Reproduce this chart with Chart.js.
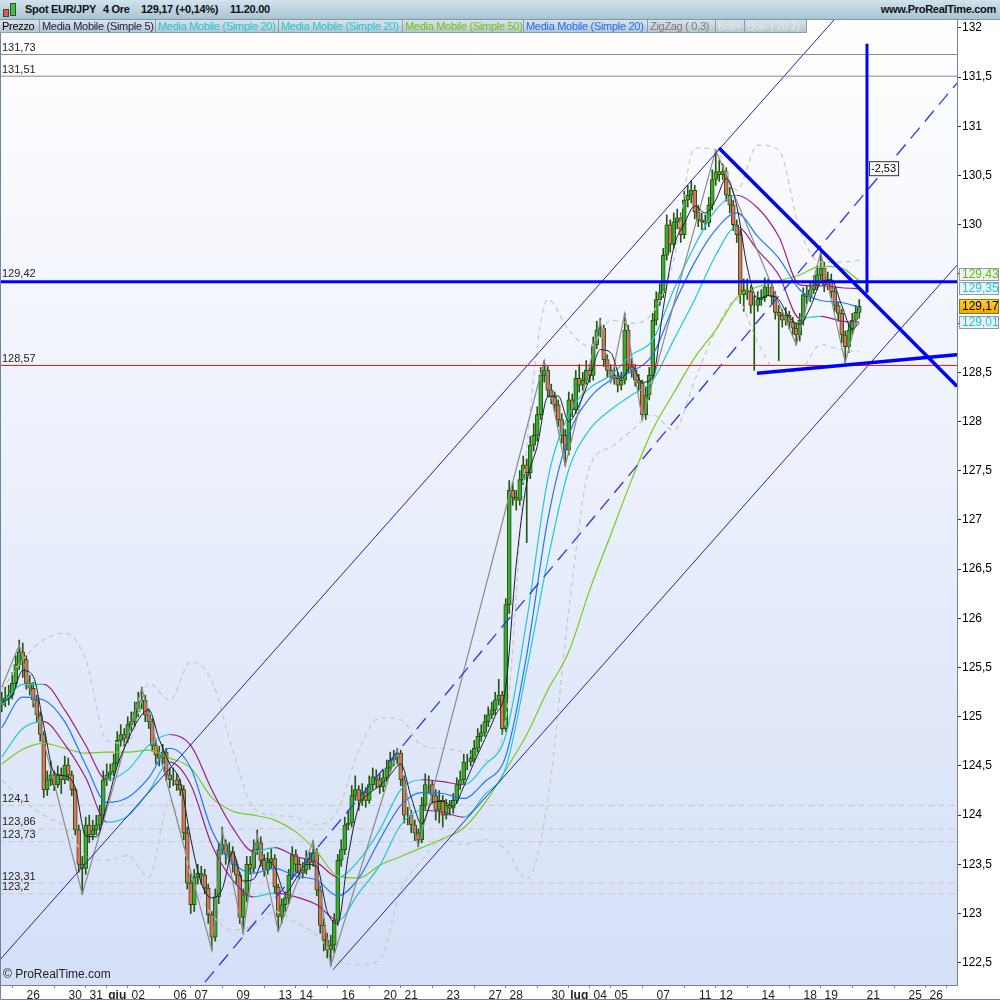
<!DOCTYPE html>
<html>
<head>
<meta charset="utf-8">
<script src="https://cdn.jsdelivr.net/npm/chart.js@4.4.1/dist/chart.umd.min.js"></script>
<style>
  body { margin: 0; background: #fff; font-family: Arial, "Liberation Sans", sans-serif; }
  #wrap { position: relative; width: 1000px; height: 1000px; overflow: hidden; }
  #c { position: absolute; left: 0; top: 0; }
  #top { position: absolute; left: 0; top: 0; width: 1000px; height: 19px;
         background: linear-gradient(#d2e3ec, #a8c4d3); border-bottom: 1px solid #7d97a7; }
  #top .t { position: absolute; top: 3px; font: bold 11px Arial, "Liberation Sans", sans-serif; color: #111;
            white-space: nowrap; letter-spacing: -0.3px; }
  #top .ico { position: absolute; left: 3px; top: 3px; width: 14px; height: 14px; }
  #top .ico i { position: absolute; display: block; border: 1px solid #444; }
  #leg { position: absolute; left: 0; top: 20px; height: 14px; display: flex; }
  #leg span { display: block; height: 13px; line-height: 13px; font-size: 11px; letter-spacing: -0.3px;
              padding-left: 2px; box-sizing: border-box; white-space: nowrap; overflow: hidden;
              background: linear-gradient(#dbe4ea, #b7c6d1); border-right: 1px solid #8c9fae; border-bottom: 1px solid #8c9fae; }
</style>
</head>
<body>
<div id="wrap">
  <canvas id="c" width="1000" height="1000"></canvas>
  <div id="top">
    <div class="ico">
      <i style="left:0;top:6px;width:4px;height:6px;background:#e35b4f"></i>
      <i style="left:7px;top:0;width:4px;height:11px;background:#3cc43c"></i>
    </div>
    <span class="t" style="left:25px">Spot EUR/JPY</span>
    <span class="t" style="left:103px">4 Ore</span>
    <span class="t" style="left:141px">129,17 (+0,14%)</span>
    <span class="t" style="left:230px">11.20.00</span>
    <span class="t" style="right:4px">www.ProRealTime.com</span>
  </div>
  <div id="leg">
    <span style="width:40px;color:#000">Prezzo</span>
    <span style="width:116px;color:#1c1c4a">Media Mobile (Simple 5)</span>
    <span style="width:123px;color:#1fc9d6">Media Mobile (Simple 20)</span>
    <span style="width:124px;color:#1fc9d6">Media Mobile (Simple 20)</span>
    <span style="width:121px;color:#6cc70e">Media Mobile (Simple 50)</span>
    <span style="width:124px;color:#1a6eff">Media Mobile (Simple 20)</span>
    <span style="width:68px;color:#7a7a7a">ZigZag ( 0,3)</span>
    <span style="width:29px;color:#e2e6ea">Boll+</span>
    <span style="width:62px;color:#e2e6ea">Boll- ( 20 2)</span>
  </div>
</div>
<script>
const FONT = 'Arial, "Liberation Sans", sans-serif';
const UP = '#3aab33', DOWN = '#e2705c', EDGE = '#24560f';
const CYAN = '#1fc9d6', MAGENTA = '#a01d8b';

// 4h candles, index 0 = first candle on the left
const firstOpen = 125.12;
const closes = [
  125.17,125.19,125.22,125.34,125.53,125.66,125.58,125.34,125.29,125.17,
  125.02,124.82,124.26,124.36,124.41,124.31,124.41,124.36,124.51,124.41,
  124.26,123.85,123.50,123.46,123.90,123.80,123.85,123.90,124.00,124.36,
  124.41,124.44,124.53,124.76,124.82,124.78,124.92,124.95,125.05,125.15,
  125.17,125.02,124.95,124.71,124.61,124.58,124.64,124.41,124.36,124.36,
  124.31,124.26,123.82,123.31,123.09,123.37,123.41,123.39,123.26,122.99,
  122.76,123.17,123.65,123.70,123.60,123.63,123.50,123.39,122.96,123.19,
  123.50,123.46,123.65,123.72,123.54,123.44,123.52,123.56,123.27,122.97,
  123.09,123.16,123.39,123.60,123.50,123.41,123.44,123.56,123.52,123.62,
  123.24,122.88,122.73,122.63,122.68,122.93,123.54,123.65,123.90,123.92,
  124.20,124.26,124.15,124.23,124.15,124.31,124.39,124.36,124.29,124.38,
  124.48,124.56,124.58,124.63,124.36,124.00,124.00,123.90,123.82,123.75,
  124.10,124.31,124.31,124.20,124.05,124.15,124.00,124.10,124.07,124.15,
  124.31,124.36,124.54,124.54,124.58,124.68,124.80,124.84,124.95,125.02,
  125.07,125.17,125.22,124.88,126.14,127.30,127.23,127.20,127.41,127.56,
  127.48,127.76,127.86,128.07,128.47,128.52,128.32,128.25,128.17,128.02,
  127.86,127.71,128.22,128.12,128.44,128.37,128.42,128.52,128.47,128.78,
  128.93,128.95,128.63,128.52,128.47,128.44,128.37,128.42,128.93,128.58,
  128.52,128.42,128.39,128.07,128.27,128.47,129.03,129.24,129.31,129.69,
  130.00,129.80,130.03,130.07,129.90,130.25,130.30,130.35,130.13,130.05,
  130.03,130.02,130.20,130.46,130.54,130.51,130.54,130.30,130.20,130.00,
  129.90,129.29,129.34,129.32,129.18,129.18,129.24,129.26,129.37,129.37,
  129.27,129.11,129.08,129.03,129.08,129.01,128.95,128.88,129.03,129.29,
  129.27,129.34,129.39,129.49,129.56,129.39,129.44,129.32,129.18,129.10,
  128.88,128.76,128.93,129.03,129.11,129.17
];
const highs = [
  125.25,125.30,125.32,125.45,125.62,125.78,125.75,125.62,125.42,125.35,
  125.22,125.05,124.85,124.45,124.55,124.45,124.50,124.48,124.60,124.58,
  124.45,124.28,123.90,123.58,123.98,124.00,123.95,124.00,124.10,124.45,
  124.52,124.52,124.62,124.85,124.92,124.88,125.00,125.05,125.15,125.25,
  125.30,125.22,125.08,124.98,124.76,124.70,124.72,124.68,124.48,124.48,
  124.42,124.36,124.30,123.88,123.40,123.45,123.50,123.48,123.45,123.30,
  123.02,123.25,123.72,123.88,123.75,123.72,123.68,123.55,123.42,123.25,
  123.58,123.58,123.75,123.85,123.78,123.60,123.62,123.66,123.60,123.30,
  123.15,123.22,123.45,123.68,123.65,123.56,123.52,123.64,123.62,123.74,
  123.66,123.28,122.95,122.80,122.78,123.00,123.60,123.75,123.98,124.05,
  124.30,124.40,124.30,124.32,124.28,124.40,124.48,124.46,124.42,124.46,
  124.56,124.64,124.66,124.68,124.66,124.40,124.08,124.05,123.95,123.86,
  124.18,124.42,124.40,124.35,124.26,124.25,124.20,124.16,124.15,124.22,
  124.38,124.45,124.62,124.62,124.66,124.76,124.88,124.92,125.02,125.10,
  125.15,125.25,125.38,125.26,126.20,127.40,127.38,127.30,127.50,127.65,
  127.62,127.85,127.98,128.15,128.55,128.62,128.56,128.38,128.30,128.22,
  128.08,127.92,128.30,128.28,128.52,128.58,128.50,128.62,128.58,128.86,
  129.02,129.05,128.98,128.68,128.58,128.55,128.50,128.50,129.10,128.98,
  128.64,128.58,128.48,128.42,128.35,128.55,129.10,129.32,129.40,129.76,
  130.10,130.05,130.12,130.16,130.12,130.34,130.40,130.45,130.40,130.20,
  130.12,130.10,130.28,130.56,130.76,130.66,130.62,130.58,130.38,130.25,
  130.05,129.95,129.45,129.45,129.38,129.28,129.32,129.34,129.46,129.45,
  129.42,129.32,129.18,129.14,129.16,129.12,129.06,129.00,129.10,129.36,
  129.38,129.42,129.48,129.58,129.72,129.62,129.52,129.50,129.36,129.22,
  129.14,128.92,129.00,129.10,129.18,129.24
];
const lows = [
  125.05,125.10,125.12,125.18,125.30,125.48,125.40,125.28,125.22,125.10,
  124.95,124.75,124.18,124.20,124.30,124.25,124.28,124.22,124.32,124.35,
  124.20,123.80,123.42,123.20,123.40,123.72,123.75,123.80,123.85,123.95,
  124.30,124.35,124.40,124.50,124.70,124.70,124.74,124.86,124.90,125.00,
  125.08,124.95,124.88,124.65,124.52,124.50,124.52,124.35,124.28,124.30,
  124.25,124.20,123.75,123.25,123.00,123.02,123.30,123.30,123.20,122.90,
  122.63,122.72,123.10,123.60,123.50,123.52,123.42,123.30,122.90,122.80,
  123.12,123.40,123.42,123.60,123.48,123.38,123.40,123.46,123.20,122.82,
  122.90,123.02,123.10,123.35,123.42,123.35,123.36,123.40,123.45,123.48,
  123.18,122.80,122.62,122.55,122.47,122.60,122.88,123.48,123.60,123.85,
  123.88,124.15,124.05,124.10,124.08,124.12,124.26,124.28,124.22,124.24,
  124.34,124.44,124.50,124.52,124.30,123.92,123.90,123.82,123.74,123.68,
  123.72,124.06,124.22,124.12,123.95,123.92,123.88,123.96,124.00,124.02,
  124.12,124.26,124.32,124.46,124.50,124.54,124.64,124.75,124.80,124.90,
  124.98,125.02,125.12,124.82,124.85,126.05,127.15,127.10,127.15,127.36,
  126.77,127.42,127.70,127.80,128.02,128.40,128.25,128.18,128.10,127.95,
  127.78,127.55,127.66,128.05,128.08,128.30,128.32,128.38,128.40,128.42,
  128.74,128.86,128.56,128.45,128.40,128.38,128.30,128.32,128.38,128.50,
  128.45,128.36,128.32,128.02,128.02,128.22,128.42,128.98,129.18,129.26,
  129.64,129.72,129.76,129.96,129.82,129.86,130.18,130.22,130.06,129.98,
  129.95,129.95,129.98,130.15,130.40,130.44,130.46,130.24,130.12,129.94,
  129.82,129.20,129.12,129.24,129.10,128.52,129.12,129.18,129.22,129.28,
  129.20,129.04,128.62,128.96,128.98,128.94,128.88,128.78,128.82,128.98,
  129.20,129.22,129.30,129.34,129.44,129.32,129.34,129.26,129.12,129.02,
  128.80,128.60,128.70,128.88,128.98,129.05
];

// indicator lines, read once per trading day (candle index)
const lineIdx = [0,6,12,18,24,30,36,42,48,54,60,66,72,78,84,90,96,102,108,114,120,
  126,132,138,144,150,156,162,168,174,180,186,192,198,204,210,216,222,228,234,240,245];
const sma20 = [124.89,125.20,125.17,124.95,124.51,124.13,124.18,124.38,124.68,124.48,123.85,
  123.52,123.41,123.46,123.38,123.34,123.18,123.36,123.75,124.10,124.23,124.22,124.17,124.34,
  124.60,125.63,127.00,127.86,128.24,128.42,128.51,128.68,129.18,129.62,129.95,130.12,129.88,
  129.66,129.34,129.23,129.21,129.16];
const sma50 = [124.52,124.67,124.73,124.68,124.63,124.64,124.64,124.66,124.58,124.48,124.18,
  124.04,124.00,123.95,123.83,123.63,123.38,123.36,123.49,123.58,123.67,123.76,123.87,124.12,
  124.46,124.82,125.27,125.66,126.29,126.85,127.41,127.92,128.29,128.65,128.93,129.26,129.37,
  129.43,129.49,129.58,129.56,129.43];
const bandHigh = [125.12,125.33,125.33,125.07,124.71,124.36,124.46,124.71,124.82,124.71,124.26,
  123.87,123.63,123.67,123.58,123.52,123.37,123.54,123.85,124.26,124.36,124.34,124.31,124.51,
  124.81,125.98,127.41,128.07,128.34,128.47,128.68,128.83,129.34,129.79,130.15,130.30,130.17,
  129.88,129.39,129.38,129.36,129.35];
const bandLow = [124.59,124.88,124.95,124.72,124.38,123.93,123.99,124.24,124.54,124.31,123.70,
  123.34,123.17,123.21,123.17,123.09,122.93,123.21,123.49,123.90,124.05,124.03,123.98,124.21,
  124.48,125.48,126.59,127.51,127.92,128.12,128.27,128.42,128.83,129.24,129.69,129.98,129.74,
  129.49,129.05,129.07,129.02,129.01];
const bollUp = [125.27,125.58,125.78,125.85,125.58,124.76,124.73,125.34,125.17,125.56,125.37,
  124.66,124.07,124.00,123.98,123.90,124.05,124.66,124.99,124.97,124.71,124.68,124.64,124.56,
  124.97,127.75,129.24,128.93,128.76,129.03,129.00,129.11,129.64,130.78,130.76,130.35,130.81,
  130.76,129.95,129.62,129.62,129.64];
const bollDn = [124.36,124.15,124.00,123.88,123.59,123.54,123.59,123.37,124.15,123.39,122.99,
  122.83,122.88,123.02,122.91,122.78,122.53,122.48,122.53,123.24,123.54,123.75,123.70,123.75,
  123.65,123.35,124.15,126.08,127.54,127.74,127.91,128.07,127.91,128.42,128.93,129.24,128.80,
  128.50,128.52,128.78,128.73,128.71];

// 5-period average, read every half day
const sma5Idx = [0,3,6,9,12,15,18,21,24,27,30,33,36,39,42,45,48,51,54,57,60,63,66,69,72,75,78,
  81,84,87,90,93,96,99,102,105,108,111,114,117,120,123,126,129,132,135,138,141,144,147,150,
  153,156,159,162,165,168,171,174,177,180,183,186,189,192,195,198,201,204,207,210,213,216,
  219,222,225,228,231,234,237,240,243,245];
const sma5 = [125.14,125.22,125.47,125.41,124.91,124.43,124.40,124.28,123.79,123.78,124.10,
  124.50,124.76,124.97,125.07,124.77,124.52,124.34,123.76,123.31,123.16,123.25,123.62,123.33,
  123.35,123.56,123.47,123.21,123.35,123.50,123.48,123.02,122.90,123.59,124.09,124.22,124.30,
  124.41,124.52,124.18,123.91,124.13,124.14,124.09,124.29,124.54,124.77,125.01,125.30,126.55,
  127.38,127.75,128.25,128.26,128.00,128.17,128.44,128.73,128.70,128.44,128.56,128.40,128.45,
  129.15,129.77,130.01,130.19,130.12,130.25,130.47,130.19,129.57,129.25,129.28,129.24,129.06,
  128.99,129.16,129.41,129.44,129.18,128.94,129.00];

// ZigZag (0,3) swing points
const zzIdx = [0,5,23,40,60,63,69,73,79,89,94,113,119,155,161,171,174,178,183,204,227,234,241,245];
const zzVal = [125.30,125.73,123.20,125.29,122.63,123.85,122.80,123.80,122.82,123.74,122.47,
  124.66,123.68,128.62,127.55,129.02,128.40,129.10,128.02,130.76,128.78,129.72,128.60,129.14];

// horizontal levels with their left labels
const levelValues = [131.73, 131.51, 129.42, 128.57, 124.1, 123.86, 123.73, 123.31, 123.2];
const levelLabels = ['131,73','131,51','129,42','128,57','124,1','123,86','123,73','123,31','123,2'];
const levelKinds  = ['gray','gray','blue','red','dash','dash','dash','dash','dash'];

// drawn trend lines: [candle index, price]
const channelTop    = [[-0.5, 122.53], [272.93, 133.49]];
const channelBottom = [[94.64, 122.43], [272.93, 129.59]];
const channelMid    = [[50, 121.96], [272.93, 131.44]];
const wedgeTop      = [[204.93, 130.78], [272.93, 128.36]];
const wedgeBottom   = [[215.8, 128.49], [272.93, 128.68]];
const measureLine   = [[247.21, 131.84], [247.21, 129.31]];

// x axis: first candle of each labelled day
const dayTicks  = [9,21,27,33,39,51,57,69,81,87,99,111,117,129,141,147,159,165,171,177,189,201,207,219,231,237,249,261,267];
const dayLabels = ['26','30','31','giu','02','06','07','09','13','14','16','20','21','23','27','28','30','lug','04','05','07','11','12','14','18','19','21','25','26'];
const monthTicks = [33, 165];

const LEVEL_STYLE = {
  gray: { borderColor: '#8a8a8a', borderWidth: 1 },
  blue: { borderColor: '#0000ff', borderWidth: 3 },
  red:  { borderColor: '#ff1010', borderWidth: 1 },
  dash: { borderColor: '#c9c9c9', borderWidth: 1, borderDash: [6, 4] }
};

const opens = [firstOpen].concat(closes.slice(0, -1));
const pts = (idx, vals) => idx.map((x, i) => ({ x, y: vals[i] }));
const seg = line => line.map(p => ({ x: p[0], y: p[1] }));
const fmt = v => v.toFixed(2).replace('.', ',');

const line = (data, color, extra) => Object.assign({
  type: 'line', data, borderColor: color, borderWidth: 1.2, pointRadius: 0,
  fill: false, cubicInterpolationMode: 'monotone'
}, extra);

const slopeColor = { borderColor: c => c.p1.parsed.y < c.p0.parsed.y ? MAGENTA : CYAN };

const datasets = [
  line(seg(wedgeTop), '#0000ff', { borderWidth: 3.5, order: 0 }),
  line(seg(wedgeBottom), '#0000ff', { borderWidth: 3.5, order: 0 }),
  line(seg(measureLine), '#0000ff', { borderWidth: 3, order: 0 }),
  line(seg(channelTop), '#2424a8', { borderWidth: 1, order: 2 }),
  line(seg(channelBottom), '#2424a8', { borderWidth: 1, order: 2 }),
  line(seg(channelMid), '#2a3ae6', { borderWidth: 1.3, borderDash: [14, 8], order: 2 }),
  line(pts(sma5Idx, sma5), '#1c1c3c', { borderWidth: 1, order: 3 }),
  line(pts(zzIdx, zzVal), '#8c8c8c', { cubicInterpolationMode: 'default', tension: 0, order: 4 }),
  line(pts(lineIdx, sma20), '#1e78ff', { order: 5 }),
  line(pts(lineIdx, bandHigh), CYAN, { segment: slopeColor, order: 6 }),
  line(pts(lineIdx, bandLow), CYAN, { segment: slopeColor, order: 6 }),
  line(pts(lineIdx, sma50), '#78cc1c', { order: 7 }),
  line(pts(lineIdx, bollUp), '#c8c8c8', { borderDash: [5, 4], order: 8 }),
  line(pts(lineIdx, bollDn), '#c8c8c8', { borderDash: [5, 4], order: 8 }),
  {
    type: 'bar', order: 9, grouped: false, barThickness: 4,
    data: closes.map((c, i) => ({ x: i, y: [opens[i], c] })),
    backgroundColor: closes.map((c, i) => c >= opens[i] ? UP : DOWN),
    borderColor: EDGE, borderWidth: 1, borderSkipped: false
  },
  {
    type: 'bar', order: 10, grouped: false, barThickness: 1,
    data: closes.map((c, i) => ({ x: i, y: [lows[i], highs[i]] })),
    backgroundColor: EDGE, borderWidth: 0
  }
];
levelValues.forEach((v, i) => {
  datasets.push(line([{ x: -1, y: v }, { x: 274, y: v }], null,
    Object.assign({ order: levelKinds[i] === 'dash' ? 11 : 1 }, LEVEL_STYLE[levelKinds[i]])));
});

const decor = {
  id: 'decor',
  beforeDraw(chart) {
    const { ctx, chartArea: a } = chart;
    const g = ctx.createLinearGradient(0, a.top, 0, a.bottom);
    g.addColorStop(0, '#ffffff');
    g.addColorStop(1, '#d5dff7');
    ctx.save();
    ctx.fillStyle = g;
    ctx.fillRect(a.left, a.top, a.right - a.left, a.bottom - a.top);
    ctx.restore();
  },
  afterDatasetsDraw(chart) {
    const { ctx, scales: { y } } = chart;
    ctx.save();
    ctx.font = '11px ' + FONT;
    ctx.fillStyle = '#222';
    ctx.textBaseline = 'bottom';
    levelValues.forEach((v, i) => {
      const off = levelKinds[i] === 'blue' ? 2 : 1;
      ctx.fillText(levelLabels[i], 2, y.getPixelForValue(v) - off);
    });
    ctx.restore();
  },
  afterDraw(chart) {
    const { ctx, chartArea: a, scales: { x, y } } = chart;
    ctx.save();
    // frame
    ctx.strokeStyle = '#71859a';
    ctx.lineWidth = 1;
    ctx.beginPath();
    ctx.moveTo(0.5, a.top); ctx.lineTo(0.5, 999.5); ctx.lineTo(1000, 999.5);
    ctx.stroke();

    // measure label on the vertical line
    const mx = x.getPixelForValue(measureLine[0][0]);
    const my = (y.getPixelForValue(measureLine[0][1]) + y.getPixelForValue(measureLine[1][1])) / 2;
    const txt = fmt(measureLine[1][1] - measureLine[0][1]);
    ctx.font = '11px ' + FONT;
    const w = ctx.measureText(txt).width + 4;
    ctx.fillStyle = '#fff';
    ctx.fillRect(mx + 2, my - 7, w, 14);
    ctx.strokeStyle = '#333';
    ctx.strokeRect(mx + 2.5, my - 6.5, w, 14);
    ctx.fillStyle = '#000';
    ctx.textBaseline = 'middle';
    ctx.fillText(txt, mx + 4, my + 0.5);

    // value boxes on the price axis
    const last = arr => arr[arr.length - 1];
    const price = { v: last(closes), h: 15, price: true };
    const above = [{ v: last(bandHigh), c: CYAN, h: 13 }, { v: last(sma50), c: '#5fbf0a', h: 13 }];
    const below = [{ v: last(bandLow), c: CYAN, h: 13 }];
    price.cy = y.getPixelForValue(price.v);
    let prev = price;
    above.forEach(b => { b.cy = Math.min(y.getPixelForValue(b.v), prev.cy - (prev.h + b.h) / 2 - 1); prev = b; });
    prev = price;
    below.forEach(b => { b.cy = Math.max(y.getPixelForValue(b.v), prev.cy + (prev.h + b.h) / 2 + 1); prev = b; });
    ctx.font = '12px ' + FONT;
    [...above, price, ...below].forEach(b => {
      const top = Math.round(b.cy - b.h / 2);
      if (b.price) {
        const gg = ctx.createLinearGradient(0, top, 0, top + b.h);
        gg.addColorStop(0, '#ffd43a'); gg.addColorStop(1, '#f0a400');
        ctx.fillStyle = gg;
      } else {
        ctx.fillStyle = '#eef2f6';
      }
      ctx.fillRect(959, top, 39, b.h);
      ctx.strokeStyle = b.price ? '#9a7400' : '#8c9cac';
      ctx.strokeRect(959.5, top + 0.5, 39, b.h - 1);
      ctx.fillStyle = b.price ? '#000' : b.c;
      ctx.textBaseline = 'middle';
      ctx.fillText(fmt(b.v), 962, top + b.h / 2 + 0.5);
    });

    ctx.fillStyle = '#222';
    ctx.font = '12px ' + FONT;
    ctx.textBaseline = 'alphabetic';
    ctx.fillText('\u00a9 ProRealTime.com', 3, 978);
    ctx.restore();
  }
};

new Chart(document.getElementById('c'), {
  type: 'bar',
  data: { datasets },
  options: {
    responsive: false,
    animation: false,
    events: [],
    layout: { padding: { top: 20, left: 0, right: 0, bottom: 0 } },
    plugins: { legend: { display: false }, tooltip: { enabled: false } },
    scales: {
      x: {
        type: 'linear', min: -0.5, max: 272.93, offset: false,
        grid: { drawOnChartArea: false, drawTicks: true, tickLength: 3, color: '#71859a' },
        border: { display: true, color: '#71859a' },
        afterBuildTicks: s => { s.ticks = dayTicks.map(v => ({ value: v })); },
        afterFit: s => { s.height = 15; },
        ticks: {
          autoSkip: false, maxRotation: 0, minRotation: 0, padding: 0, color: '#222',
          callback: v => dayLabels[dayTicks.indexOf(v)],
          font: c => ({ family: FONT, size: 12,
            weight: c.tick && monthTicks.includes(c.tick.value) ? 'bold' : 'normal' })
        }
      },
      y: {
        position: 'right', min: 122.274, max: 132.081,
        grid: { drawOnChartArea: false, drawTicks: true, tickLength: 4, color: '#333' },
        border: { display: true, color: '#71859a' },
        afterFit: s => { s.width = 43; },
        ticks: {
          stepSize: 0.5, includeBounds: false, padding: 1, color: '#000',
          font: { family: FONT, size: 12 },
          callback: v => String(v).replace('.', ',')
        }
      }
    }
  },
  plugins: [decor]
});
</script>
</body>
</html>
